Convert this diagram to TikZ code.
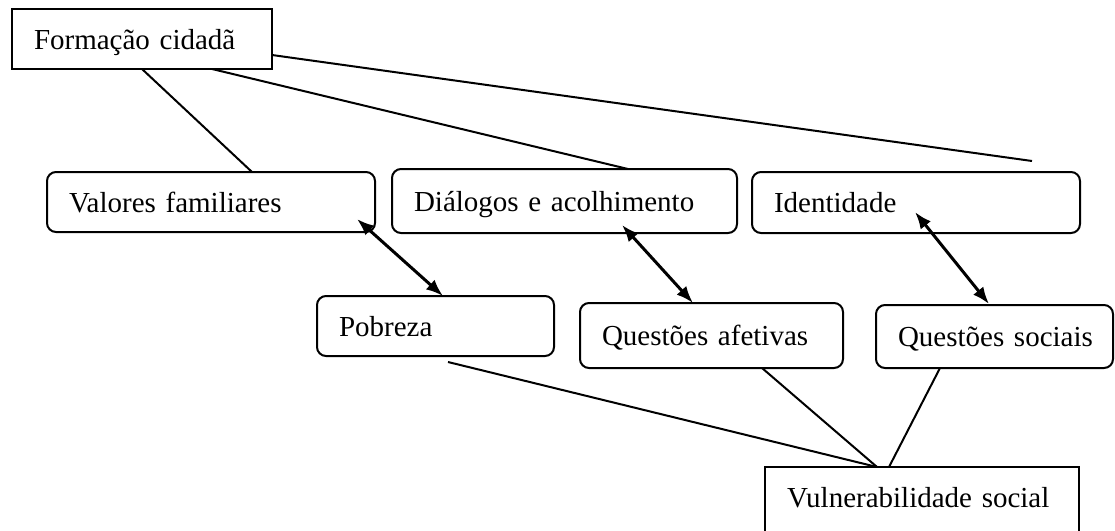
\documentclass[tikz,border=0pt]{standalone}
\usepackage{fontspec}
\setmainfont{Liberation Serif}
\usetikzlibrary{arrows.meta,calc}
\begin{document}
\begin{tikzpicture}[x=1pt,y=-1pt,
  box/.style={draw,line width=2pt,anchor=north west,outer sep=0pt,inner xsep=22pt,inner ysep=0pt,
    align=left,font=\fontsize{29}{34}\selectfont,text height=20pt,text depth=0pt},
  rbox/.style={box,rounded corners=9pt},
  link/.style={line width=2pt},
  dbl/.style={line width=3pt,{Latex[length=17pt,width=13pt]}-{Latex[length=17pt,width=13pt]}}]
\useasboundingbox (0,0) rectangle (1115,530);
\clip (0,0) rectangle (1115,530);
\fill[white] (0,0) rectangle (1115,530);

\node[box, minimum height=60pt, text width=216pt] (fc) at (12,9) {\mbox{Formação cidadã}};
\node[rbox, minimum height=60pt, text width=284pt] (vf) at (47,172) {\mbox{Valores familiares}};
\node[rbox, minimum height=64pt, text width=301pt] (da) at (392,169) {\mbox{Diálogos e acolhimento}};
\node[rbox, minimum height=61pt, text width=284pt] (id) at (752,172) {\mbox{Identidade}};
\node[rbox, minimum height=60pt, text width=193pt] (pb) at (317,296) {\mbox{Pobreza}};
\node[rbox, minimum height=65pt, text width=219pt] (qa) at (580,303) {\mbox{Questões afetivas}};
\node[rbox, minimum height=63pt, text width=193pt] (qs) at (876,305) {\mbox{Questões sociais}};
\node[box, minimum height=66pt, text width=270pt, text depth=6pt] (vs) at (765,467) {\mbox{Vulnerabilidade social}};

\coordinate (fcend) at (1032,161);

% Formação cidadã links
\draw[link] (fc.south) -- ($(vf.north west)+(205,0)$);
\draw[link] ($(fc.south west)+(200,0)$) -- ($(da.north west)+(236,0)$);
\draw[link] ($(fc.south east)+(0,-14)$) -- (fcend);

% double arrows
\draw[dbl] ($(vf.south east)+(-18,-13)$) -- ($(pb.north west)+(126,0)$);
\draw[dbl] ($(da.south west)+(230,-8)$) -- ($(qa.north west)+(113,0)$);
\draw[dbl] ($(id.south west)+(163,-21)$) -- ($(qs.north west)+(113,-1)$);

% links to Vulnerabilidade social
\draw[link] ($(pb.south west)+(131,6)$) -- ($(vs.north west)+(112,0)$);
\draw[link] ($(qa.south west)+(182,0)$) -- ($(vs.north west)+(112,0)$);
\draw[link] ($(qs.south west)+(64,0)$) -- ($(vs.north west)+(124,0)$);
\end{tikzpicture}
\end{document}
